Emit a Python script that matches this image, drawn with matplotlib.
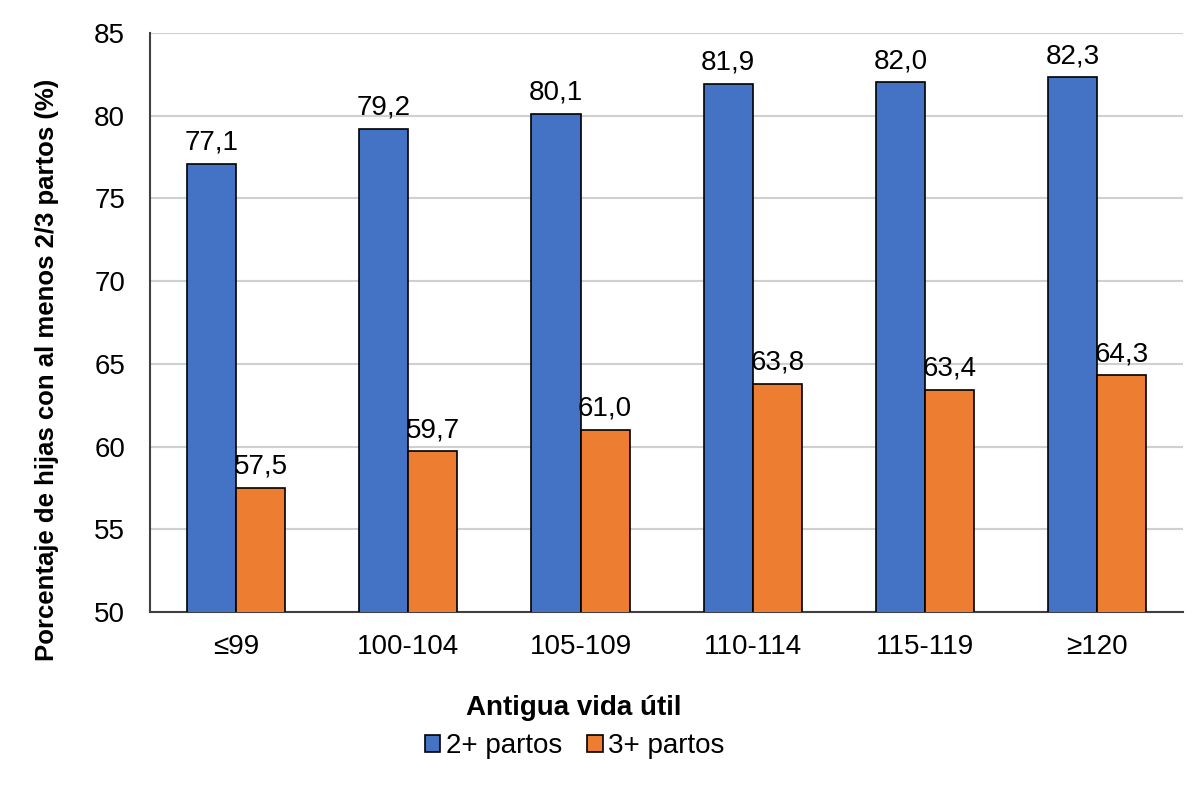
import matplotlib
matplotlib.use("Agg")
import matplotlib.pyplot as plt
import numpy as np

categories = ["≤99", "100-104", "105-109", "110-114", "115-119", "≥120"]
series_names = ["2+ partos", "3+ partos"]
partos2 = [77.1, 79.2, 80.1, 81.9, 82.0, 82.3]
partos3 = [57.5, 59.7, 61.0, 63.8, 63.4, 64.3]
colors = ["#4472C4", "#ED7D31"]

plt.rcParams['font.family'] = ['Liberation Sans', 'DejaVu Sans']

fig = plt.figure(figsize=(12, 8), dpi=100)
ax = fig.add_axes([0.125, 0.235, 0.861, 0.724])

x = np.arange(len(categories))
w = 0.285
b1 = ax.bar(x - w/2, partos2, w, color=colors[0], edgecolor="black", linewidth=1.2, label=series_names[0], zorder=3)
b2 = ax.bar(x + w/2, partos3, w, color=colors[1], edgecolor="black", linewidth=1.2, label=series_names[1], zorder=3)

for bars, vals in ((b1, partos2), (b2, partos3)):
    for r, v in zip(bars, vals):
        ax.text(r.get_x() + r.get_width()/2, v + 0.5, f"{v:.1f}".replace(".", ","),
                ha="center", va="bottom", fontsize=20, color="black", zorder=4)

ax.set_ylim(50, 85)
ax.set_xlim(-0.5, len(categories) - 0.5)
ax.set_yticks(np.arange(50, 86, 5))
ax.set_xticks(x)
ax.set_xticklabels(categories)
ax.tick_params(axis="both", labelsize=20, length=0, colors="black")
ax.tick_params(axis="x", pad=16)
ax.tick_params(axis="y", pad=18)
ax.yaxis.grid(True, color="#d0d0d0", linewidth=1.5, zorder=0)
ax.set_axisbelow(True)
for s in ["top", "right"]:
    ax.spines[s].set_visible(False)
for s in ["left", "bottom"]:
    ax.spines[s].set_color("#404040")
    ax.spines[s].set_linewidth(1.5)

fig.text(0.039, 0.5375, "Porcentaje de hijas con al menos 2/3 partos (%)", fontsize=18.5,
         fontweight="bold", rotation=90, ha="center", va="center")
fig.text(0.478, 0.115, "Antigua vida útil", fontsize=20, fontweight="bold", ha="center", va="center")

fig.legend(loc="center", bbox_to_anchor=(0.479, 0.067), ncol=2, frameon=False, fontsize=20,
           handlelength=0.55, handleheight=0.55, handletextpad=0.2, columnspacing=0.9)

fig.savefig("out.png", dpi=100)
